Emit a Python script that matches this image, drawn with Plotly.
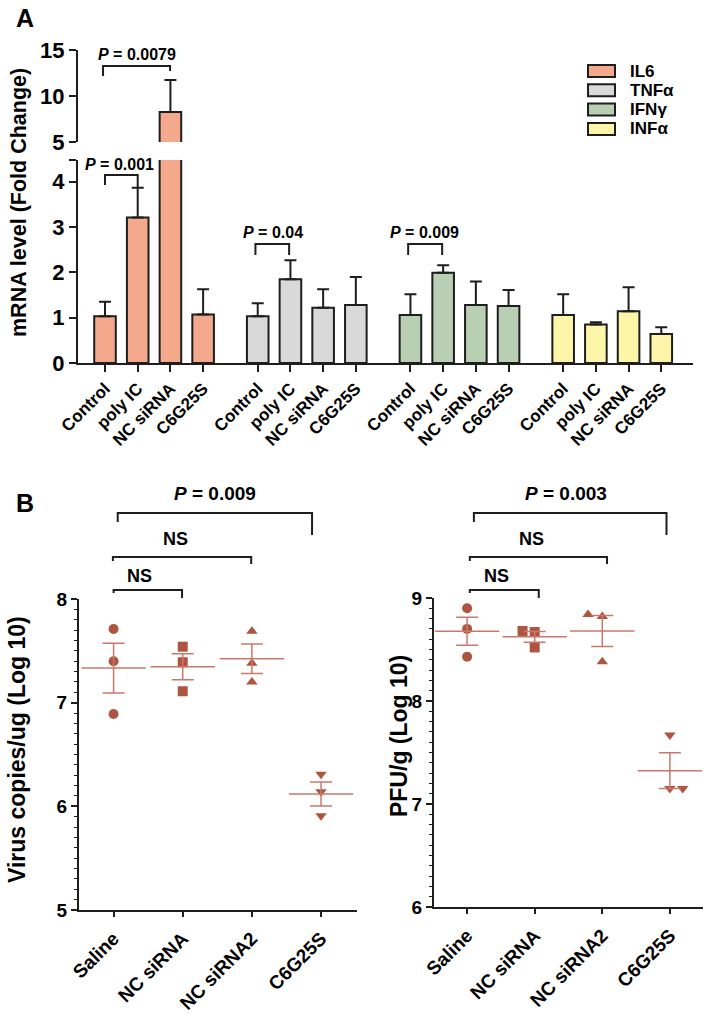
import plotly.graph_objects as go
import numpy as np

W, H = 709, 1019
def px(x): return x / W
def py(y): return 1 - y / H

FONT = "Liberation Sans, Arial, Helvetica, sans-serif"
INK = "#1e1e1e"

# ---------------- Panel A data ----------------
treatments = ["Control", "poly IC", "NC siRNA", "C6G25S"]
cytokines = ["IL6", "TNFα", "IFNγ", "INFα"]
il6_mean = [1.03, 3.21, 8.25, 1.07]
il6_err = [0.32, 0.66, 3.50, 0.56]
tnf_mean = [1.03, 1.85, 1.22, 1.28]
tnf_err = [0.29, 0.42, 0.41, 0.62]
ifn_mean = [1.06, 1.99, 1.28, 1.26]
ifn_err = [0.46, 0.17, 0.52, 0.35]
inf_mean = [1.06, 0.85, 1.14, 0.64]
inf_err = [0.46, 0.05, 0.53, 0.15]
a_pvals = ["0.0079", "0.001", "0.04", "0.009"]

# ---------------- Panel B data ----------------
groups_b = ["Saline", "NC siRNA", "NC siRNA2", "C6G25S"]
virus_saline = [7.71, 7.40, 6.89]
virus_nc = [7.54, 7.39, 7.11]
virus_nc2 = [7.69, 7.38, 7.20]
virus_c6 = [6.31, 6.14, 5.91]
pfu_saline = [8.90, 8.70, 8.43]
pfu_nc = [8.68, 8.67, 8.52]
pfu_nc2 = [8.84, 8.82, 8.38]
pfu_c6 = [7.67, 7.15, 7.15]
b_pvals = ["0.009", "0.003"]

# ---------------- styles ----------------
bar_colors = ["#F4A98D", "#D9D9D9", "#B8CFB3", "#FDF6A8"]
GROUP_STEP = 4.67
BAR_W = 0.66
pt_color = "#AD5540"
line_color = "#C9796B"
symbols = ["circle", "square", "triangle-up", "triangle-down"]
virus_jitter = [[0, 0, 0], [0, 0, 0], [0, 0, 0], [0, 0, 0]]
pfu_jitter = [[0, 0, 0], [-0.18, 0, 0], [-0.21, 0, 0], [0, 0, 0.19]]

fig = go.Figure()

means = [il6_mean, tnf_mean, ifn_mean, inf_mean]
errs = [il6_err, tnf_err, ifn_err, inf_err]
positions = []
for g in range(4):
    xs = [g * GROUP_STEP + i for i in range(4)]
    positions.append(xs)
    axes = ["y", "y2"] if g == 0 else ["y"]
    for ya in axes:
        fig.add_trace(go.Bar(
            x=xs, y=means[g], width=BAR_W, xaxis="x", yaxis=ya,
            marker=dict(color=bar_colors[g], line=dict(color=INK, width=2)),
            error_y=dict(type="data", symmetric=False, array=errs[g],
                         arrayminus=[0] * 4, color=INK, thickness=2, width=6),
            showlegend=False, name=cytokines[g]))

all_pos = [p for grp in positions for p in grp]
tick_text = treatments * 4

# ---------------- Panel B traces ----------------
def add_scatter(data_groups, jitter, xa, ya):
    for i, vals in enumerate(data_groups):
        xs = [i + j for j in jitter[i]]
        fig.add_trace(go.Scatter(
            x=xs, y=vals, mode="markers", xaxis=xa, yaxis=ya,
            marker=dict(symbol=symbols[i], size=10, color=pt_color, line=dict(width=0)),
            showlegend=False))
        arr = np.array(vals)
        m = arr.mean()
        sem = arr.std(ddof=1) / np.sqrt(len(arr))
        fig.add_trace(go.Scatter(
            x=[i], y=[m], mode="markers", xaxis=xa, yaxis=ya,
            marker=dict(symbol="line-ew", size=46, color=line_color,
                        line=dict(color=line_color, width=1.5)),
            error_y=dict(type="data", array=[sem], color=line_color, thickness=1.5, width=11),
            showlegend=False))

add_scatter([virus_saline, virus_nc, virus_nc2, virus_c6], virus_jitter, "x3", "y3")
add_scatter([pfu_saline, pfu_nc, pfu_nc2, pfu_c6], pfu_jitter, "x4", "y4")

# ---------------- axes ----------------
axis_common = dict(showline=True, linecolor=INK, linewidth=2, ticks="outside",
                   tickcolor=INK, tickwidth=2, showgrid=False, zeroline=False,
                   fixedrange=True, automargin=False)

fig.update_layout(
    width=W, height=H, margin=dict(l=0, r=0, t=0, b=0, pad=0, autoexpand=False),
    paper_bgcolor="white", plot_bgcolor="rgba(0,0,0,0)",
    barmode="overlay", font=dict(family=FONT, color="black"),
    xaxis=dict(domain=[px(78), px(693)], range=[-0.826, 17.98], anchor="y",
               tickvals=all_pos, ticktext=tick_text, tickangle=-45, ticklen=7,
               tickfont=dict(size=17, weight="bold", family=FONT), **axis_common),
    yaxis=dict(domain=[py(363), py(160)], range=[0, 4.48], anchor="x",
               tickvals=[0, 1, 2, 3, 4, 4.48], ticktext=["0", "1", "2", "3", "4", ""],
               ticklen=7, tickfont=dict(size=22, weight="bold", family=FONT), **axis_common),
    yaxis2=dict(domain=[py(142), py(50)], range=[5, 15], anchor="x",
                tickvals=[5, 10, 15], ticklen=7,
                tickfont=dict(size=22, weight="bold", family=FONT), **axis_common),
    xaxis3=dict(domain=[px(79), px(357)], range=[-0.5, 3.52], anchor="y3",
                tickvals=[0, 1, 2, 3], ticktext=groups_b, tickangle=-45, ticklen=5,
                ticklabelstandoff=3,
                tickfont=dict(size=19, weight="bold", family=FONT), **axis_common),
    yaxis3=dict(domain=[py(910), py(599)], range=[5, 8], anchor="x3",
                tickvals=[5, 6, 7, 8], ticklen=6,
                minor=dict(dtick=0.1, ticklen=3, tickwidth=1, ticks="outside", tickcolor=INK),
                tickfont=dict(size=19, weight="bold", family=FONT), **axis_common),
    xaxis4=dict(domain=[px(434), px(703)], range=[-0.49, 3.49], anchor="y4",
                tickvals=[0, 1, 2, 3], ticktext=groups_b, tickangle=-45, ticklen=5,
                ticklabelstandoff=3,
                tickfont=dict(size=19, weight="bold", family=FONT), **axis_common),
    yaxis4=dict(domain=[py(907), py(598)], range=[6, 9], anchor="x4",
                tickvals=[6, 7, 8, 9], ticklen=6,
                minor=dict(dtick=0.1, ticklen=3, tickwidth=1, ticks="outside", tickcolor=INK),
                tickfont=dict(size=19, weight="bold", family=FONT), **axis_common),
)

shapes = []
annotations = []

def bracket(xref, x0, x1, ytop, yl0, yl1, lw=2):
    shapes.append(dict(type="path", xref=xref, yref="paper",
                       path=f"M{x0},{py(yl0)} L{x0},{py(ytop)} L{x1},{py(ytop)} L{x1},{py(yl1)}",
                       line=dict(color=INK, width=lw)))

def label(xref, x, y, text, size):
    annotations.append(dict(xref=xref, yref="paper", x=x, y=py(y), text=text,
                            showarrow=False, xanchor="center", yanchor="middle",
                            font=dict(size=size, family=FONT, color="black")))

# Panel A brackets
bracket("x", positions[0][0] - 0.06, positions[0][2] - 0.01, 66, 76, 71)
label("x", 0.99, 54, f"<b><i>P</i> = {a_pvals[0]}</b>", 16)
bracket("x", positions[0][0], positions[0][1], 175, 185, 187)
label("x", 0.44, 164, f"<b><i>P</i> = {a_pvals[1]}</b>", 16)
bracket("x", positions[1][0] - 0.07, positions[1][1] - 0.04, 244, 255, 255)
label("x", 5.14, 232, f"<b><i>P</i> = {a_pvals[2]}</b>", 16)
bracket("x", positions[2][0] - 0.07, positions[2][1] - 0.03, 244, 255, 255)
label("x", 9.77, 232, f"<b><i>P</i> = {a_pvals[3]}</b>", 16)

# Panel B brackets (left)
bracket("x3", 0.06, 2.87, 513, 522, 535)
label("x3", 1.46, 493, f"<b><i>P</i> = {b_pvals[0]}</b>", 19)
bracket("x3", -0.01, 1.99, 557, 561, 564)
label("x3", 0.9, 539, "<b>NS</b>", 18)
bracket("x3", 0.0, 0.99, 590, 593, 598)
label("x3", 0.38, 576, "<b>NS</b>", 18)
# Panel B brackets (right)
bracket("x4", 0.10, 2.95, 513, 522, 535)
label("x4", 1.47, 493, f"<b><i>P</i> = {b_pvals[1]}</b>", 19)
bracket("x4", 0.04, 2.07, 557, 561, 564)
label("x4", 0.95, 539, "<b>NS</b>", 18)
bracket("x4", 0.04, 1.06, 590, 593, 598)
label("x4", 0.44, 576, "<b>NS</b>", 18)

# Legend (manual)
for k, (name, col) in enumerate(zip(cytokines, bar_colors)):
    yc = 71 + k * 19.3
    shapes.append(dict(type="rect", xref="paper", yref="paper",
                       x0=px(588), x1=px(615), y0=py(yc + 6), y1=py(yc - 6),
                       fillcolor=col, line=dict(color=INK, width=2)))
    annotations.append(dict(xref="paper", yref="paper", x=px(628), y=py(yc), text=f"<b>{name}</b>",
                            showarrow=False, xanchor="left", yanchor="middle",
                            font=dict(size=17, family=FONT, color="black")))

# Axis titles
def vtitle(x, y, text, size):
    annotations.append(dict(xref="paper", yref="paper", x=px(x), y=py(y), text=f"<b>{text}</b>",
                            textangle=-90, showarrow=False, xanchor="center", yanchor="middle",
                            font=dict(size=size, family=FONT, color="black")))

vtitle(19, 203, "mRNA level (Fold Change)", 21.5)
vtitle(17, 750, "Virus copies/ug (Log 10)", 23)
vtitle(399, 736, "PFU/g (Log 10)", 23)

# Panel letters
for letter, y in [("A", 18), ("B", 503)]:
    annotations.append(dict(xref="paper", yref="paper", x=px(25), y=py(y), text=f"<b>{letter}</b>",
                            showarrow=False, xanchor="center", yanchor="middle",
                            font=dict(size=25, family=FONT, color="black")))

fig.update_layout(shapes=shapes, annotations=annotations)
fig.write_html("out.html", config={"displayModeBar": False},
               post_script="document.body.style.margin='0px';document.body.style.overflow='hidden';")
